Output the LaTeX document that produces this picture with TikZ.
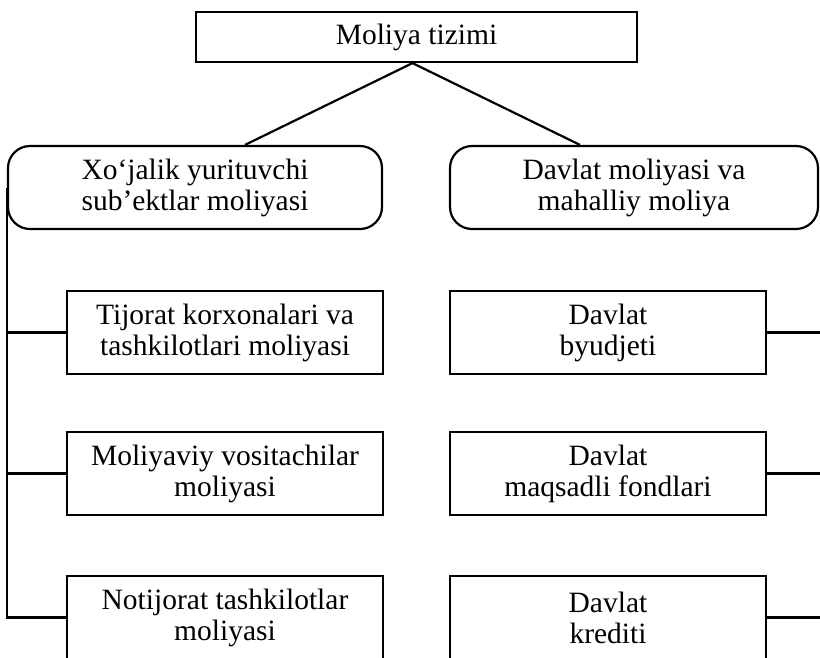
\documentclass[tikz,border=0pt]{standalone}
\usepackage{fontspec}
\setmainfont{Liberation Serif}
\begin{document}
\begin{tikzpicture}[x=1pt,y=-1pt,
  box/.style={draw, line width=2.2pt, inner sep=0pt, align=center,
    font=\fontsize{29.5}{31}\selectfont},
  rbox/.style={box, rounded corners=22pt},
  conn/.style={line width=2.2pt}]
\useasboundingbox[fill=white] (0,0) rectangle (820,657);
% top
\node[box, minimum width=441pt, minimum height=50pt] (top) at (416.5,37) {Moliya tizimi};
% second level
\node[rbox, minimum width=374pt, minimum height=83pt] (lrb) at (195,187.5) {Xo‘jalik yurituvchi\\sub’ektlar moliyasi};
\node[rbox, minimum width=368pt, minimum height=83pt] (rrb) at (634,187.5) {Davlat moliyasi va\\mahalliy moliya};
% left column
\node[box, minimum width=316pt, minimum height=83pt] (l1) at (225,332.5) {Tijorat korxonalari va\\tashkilotlari moliyasi};
\node[box, minimum width=316pt, minimum height=83pt] (l2) at (225,473.5) {Moliyaviy vositachilar\\moliyasi};
\node[box, minimum width=316pt, minimum height=83pt] (l3) at (225,617.5) {Notijorat tashkilotlar\\moliyasi};
% right column
\node[box, minimum width=316pt, minimum height=83pt] (r1) at (608,332.5) {Davlat\\byudjeti};
\node[box, minimum width=316pt, minimum height=83pt] (r2) at (608,473.5) {Davlat\\maqsadli fondlari};
\node[box, minimum width=316pt, minimum height=83pt] (r3) at (608,617.5) {Davlat\\krediti};
% connectors from top
\coordinate (apex) at ([xshift=-4pt]top.south);
\coordinate (lend) at ([xshift=50pt]lrb.north);
\coordinate (rend) at ([xshift=-54pt]rrb.north);
\draw[conn] (lend) -- (apex) -- (rend);
% left tree
\draw[conn] (lrb.west) -- (lrb.west |- l3.west) -- (l3.west);
\draw[conn] (l1.west) -- (l1.west -| lrb.west);
\draw[conn] (l2.west) -- (l2.west -| lrb.west);
% right stubs
\coordinate (redge) at (826,0);
\draw[conn] (r1.east) -- (r1.east -| redge);
\draw[conn] (r2.east) -- (r2.east -| redge);
\draw[conn] (r3.east) -- (r3.east -| redge);
\end{tikzpicture}
\end{document}
